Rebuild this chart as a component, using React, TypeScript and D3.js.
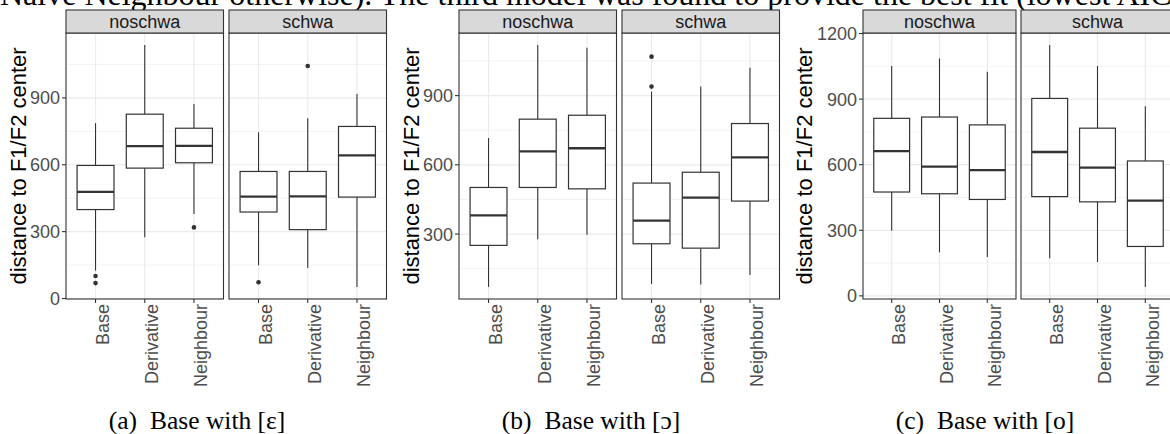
import React, { useEffect, useRef } from 'react';
import * as d3 from 'd3';

// box stats per condition: [lower whisker, Q1, median, Q3, upper whisker]
const facets = ['noschwa', 'schwa'];
const conditions = ['Base', 'Derivative', 'Neighbour'];

const epsNoschwa = [[125, 399, 478, 597, 787], [275, 585, 684, 827, 1137], [379, 609, 685, 764, 873]];
const epsSchwa = [[149, 388, 457, 570, 746], [137, 309, 458, 570, 809], [52, 455, 642, 772, 917]];
const epsNoschwaOut = [[101, 69], [], [319]];
const epsSchwaOut = [[73], [1043], []];

const openNoschwa = [[71, 251, 381, 502, 716], [278, 502, 658, 798, 1119], [297, 496, 672, 815, 1108]];
const openSchwa = [[84, 258, 358, 521, 917], [81, 239, 458, 568, 939], [123, 443, 632, 779, 1021]];
const openNoschwaOut = [[], [], []];
const openSchwaOut = [[1069, 939], [], []];

const closeNoschwa = [[298, 475, 662, 812, 1051], [199, 467, 591, 818, 1086], [178, 441, 575, 782, 1025]];
const closeSchwa = [[172, 454, 658, 903, 1147], [155, 430, 587, 767, 1051], [41, 226, 436, 617, 867]];
const closeNoschwaOut = [[], [], []];
const closeSchwaOut = [[], [], []];

const majorTicks = [0, 300, 600, 900, 1200];
const minorTicks = [150, 450, 750, 1050];

const subLabels = ['(a)', '(b)', '(c)'];
const captions = ['Base with [ɛ]', 'Base with [ɔ]', 'Base with [o]'];
const bodyText = 'Naive Neighbour otherwise). The third model was found to provide the best fit (lowest AIC';

const WIDTH = 1170;
const HEIGHT = 434;

const sans = "'Liberation Sans', Arial, sans-serif";
const serif = "'Liberation Serif', 'Times New Roman', serif";

const subfigs = [
  { stats: [epsNoschwa, epsSchwa], outs: [epsNoschwaOut, epsSchwaOut], left: 66, pw: 157.5, gap: 5.5, titleX: 26, capX: 197 },
  { stats: [openNoschwa, openSchwa], outs: [openNoschwaOut, openSchwaOut], left: 459, pw: 157.5, gap: 5.5, titleX: 419, capX: 591 },
  { stats: [closeNoschwa, closeSchwa], outs: [closeNoschwaOut, closeSchwaOut], left: 863, pw: 153, gap: 5, titleX: 812, capX: 985 },
];

const App: React.FC = () => {
  const svgRef = useRef<SVGSVGElement>(null);

  useEffect(() => {
    if (!svgRef.current) return;
    const svg = d3.select(svgRef.current);
    svg.selectAll('*').remove();

    const stripTop = 10;
    const panelTop = 33;
    const panelBottom = 299;

    // running paragraph line above the figure, cut off by the crop like in the page
    const body = svg.append('text')
      .attr('x', 0)
      .attr('y', 4.5)
      .attr('font-family', serif)
      .attr('font-size', 24)
      .attr('fill', '#000')
      .text(bodyText);
    const natural = (body.node() as SVGTextElement).getComputedTextLength();
    body.attr('font-size', Math.min(32, (24 * 1185) / natural));

    subfigs.forEach((sf, si) => {
      const g = svg.append('g');

      // shared y domain, ggplot-style 5% expansion
      const all: number[] = [];
      sf.stats.forEach(fs => fs.forEach(s => { all.push(s[0], s[4]); }));
      sf.outs.forEach(fo => fo.forEach(o => all.push(...o)));
      const [lo, hi] = d3.extent(all) as [number, number];
      const pad = (hi - lo) * 0.05;
      const y = d3.scaleLinear().domain([lo - pad, hi + pad]).range([panelBottom, panelTop]);
      const inDomain = (v: number) => v >= y.domain()[0] && v <= y.domain()[1];

      facets.forEach((facet, fi) => {
        const x0 = sf.left + fi * (sf.pw + sf.gap);
        const x = d3.scalePoint<string>().domain(conditions).range([x0, x0 + sf.pw]).padding(0.6);
        const boxW = x.step() * 0.75;
        const pg = g.append('g');

        pg.append('rect')
          .attr('x', x0).attr('y', panelTop)
          .attr('width', sf.pw).attr('height', panelBottom - panelTop)
          .attr('fill', '#fff');

        pg.selectAll('line.minor').data(minorTicks.filter(inDomain)).enter().append('line')
          .attr('x1', x0).attr('x2', x0 + sf.pw)
          .attr('y1', d => y(d)).attr('y2', d => y(d))
          .attr('stroke', '#EBEBEB').attr('stroke-width', 0.6);
        pg.selectAll('line.major').data(majorTicks.filter(inDomain)).enter().append('line')
          .attr('x1', x0).attr('x2', x0 + sf.pw)
          .attr('y1', d => y(d)).attr('y2', d => y(d))
          .attr('stroke', '#EBEBEB').attr('stroke-width', 1.2);
        pg.selectAll('line.vgrid').data(conditions).enter().append('line')
          .attr('x1', d => x(d)!).attr('x2', d => x(d)!)
          .attr('y1', panelTop).attr('y2', panelBottom)
          .attr('stroke', '#EBEBEB').attr('stroke-width', 1.2);

        const stats = sf.stats[fi];
        const outs = sf.outs[fi];

        conditions.forEach((c, ci) => {
          const s = stats[ci];
          const cx = x(c)!;
          pg.append('line')
            .attr('x1', cx).attr('x2', cx).attr('y1', y(s[4])).attr('y2', y(s[3]))
            .attr('stroke', '#333').attr('stroke-width', 1.1);
          pg.append('line')
            .attr('x1', cx).attr('x2', cx).attr('y1', y(s[1])).attr('y2', y(s[0]))
            .attr('stroke', '#333').attr('stroke-width', 1.1);
          pg.append('rect')
            .attr('x', cx - boxW / 2).attr('y', y(s[3]))
            .attr('width', boxW).attr('height', y(s[1]) - y(s[3]))
            .attr('fill', '#fff').attr('stroke', '#333').attr('stroke-width', 1.2);
          pg.append('line')
            .attr('x1', cx - boxW / 2).attr('x2', cx + boxW / 2)
            .attr('y1', y(s[2])).attr('y2', y(s[2]))
            .attr('stroke', '#333').attr('stroke-width', 2.3);
          pg.selectAll(null).data(outs[ci]).enter().append('circle')
            .attr('cx', cx).attr('cy', d => y(d)).attr('r', 2.3)
            .attr('fill', '#333');

          // x tick + rotated label
          pg.append('line')
            .attr('x1', cx).attr('x2', cx).attr('y1', panelBottom).attr('y2', panelBottom + 4)
            .attr('stroke', '#333').attr('stroke-width', 1.1);
          pg.append('text')
            .attr('transform', `translate(${cx + 13.5},${panelBottom + 5}) rotate(-90)`)
            .attr('text-anchor', 'end')
            .attr('font-family', sans).attr('font-size', 18)
            .attr('fill', '#4D4D4D')
            .text(c);
        });

        pg.append('rect')
          .attr('x', x0).attr('y', panelTop)
          .attr('width', sf.pw).attr('height', panelBottom - panelTop)
          .attr('fill', 'none').attr('stroke', '#333').attr('stroke-width', 1.1);

        // facet strip
        pg.append('rect')
          .attr('x', x0).attr('y', stripTop)
          .attr('width', sf.pw).attr('height', panelTop - stripTop)
          .attr('fill', '#D9D9D9').attr('stroke', '#333').attr('stroke-width', 1.1);
        pg.append('text')
          .attr('x', x0 + sf.pw / 2).attr('y', 28)
          .attr('text-anchor', 'middle')
          .attr('font-family', sans).attr('font-size', 18)
          .attr('fill', '#1A1A1A')
          .text(facet);
      });

      // y axis
      const ticks = majorTicks.filter(inDomain);
      g.selectAll('line.ytick').data(ticks).enter().append('line')
        .attr('x1', sf.left - 4).attr('x2', sf.left)
        .attr('y1', d => y(d)).attr('y2', d => y(d))
        .attr('stroke', '#333').attr('stroke-width', 1.1);
      g.selectAll('text.ytick').data(ticks).enter().append('text')
        .attr('x', sf.left - 6).attr('y', d => y(d))
        .attr('dy', '0.36em')
        .attr('text-anchor', 'end')
        .attr('font-family', sans).attr('font-size', 18)
        .attr('fill', '#4D4D4D')
        .text(d => String(d));

      g.append('text')
        .attr('transform', `translate(${sf.titleX},${(panelTop + panelBottom) / 2}) rotate(-90)`)
        .attr('text-anchor', 'middle')
        .attr('font-family', sans).attr('font-size', 22)
        .attr('fill', '#000')
        .text('distance to F1/F2 center');

      // caption
      const cap = g.append('text')
        .attr('x', sf.capX).attr('y', 429)
        .attr('text-anchor', 'middle')
        .attr('font-family', serif).attr('font-size', 25.5)
        .attr('fill', '#000');
      cap.append('tspan').text(subLabels[si]);
      cap.append('tspan').attr('dx', 13).text(captions[si]);
    });
  }, []);

  return (
    <div style={{ position: 'absolute', left: 0, top: 0, width: WIDTH, height: HEIGHT, background: '#fff' }}>
      <svg ref={svgRef} width={WIDTH} height={HEIGHT} viewBox={`0 0 ${WIDTH} ${HEIGHT}`} style={{ display: 'block' }} />
    </div>
  );
};

export default App;
